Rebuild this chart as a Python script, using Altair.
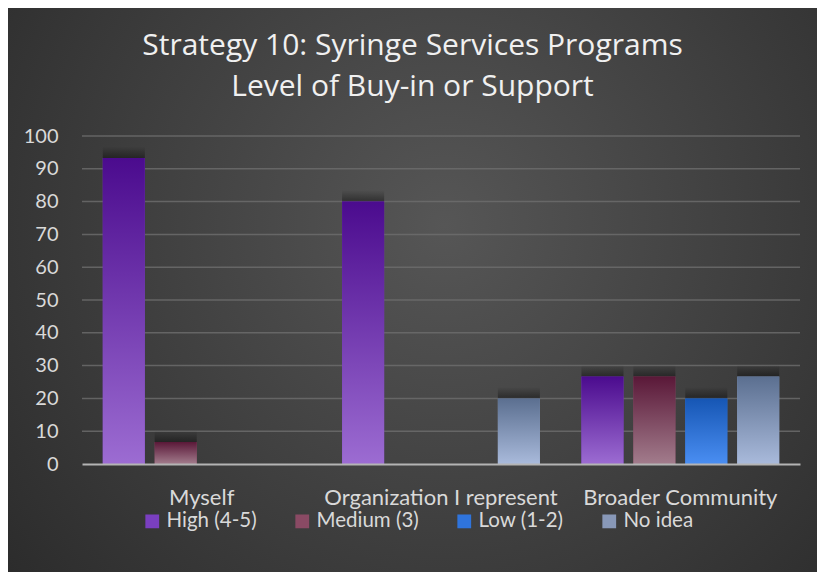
import altair as alt
import pandas as pd

categories = ["Myself", "Organization I represent", "Broader Community"]
series = ["High (4-5)", "Medium (3)", "Low (1-2)", "No idea"]
high = [93.3, 80.0, 26.7]
medium = [6.7, 0.0, 26.7]
low = [0.0, 0.0, 20.0]
no_idea = [0.0, 20.0, 26.7]
y_ticks = list(range(0, 101, 10))

legend_colors = ["#7a3fc0", "#8a4a64", "#2f74dc", "#8898b8"]
grad_top = ["#4b0b8e", "#5a1838", "#1656b4", "#5b6f90"]
grad_bottom = ["#9c6cd2", "#a27c8c", "#4a8ef2", "#a9badb"]

rows = []
for s, vals in zip(series, [high, medium, low, no_idea]):
    for c, v in zip(categories, vals):
        rows.append({"category": c, "series": s, "value": v})
df = pd.DataFrame(rows)

W, H = 718, 328
PL, PT, PR, PB = 74, 128, 17, 108
FONT = "Lato"
TXT = "#d9d9d9"

y_scale = alt.Scale(domain=[0, 100], nice=False)
y_axis = alt.Axis(values=y_ticks, labelOverlap=False, zindex=1, labelFontSize=20,
                  labelColor=TXT, labelFont=FONT, ticks=False, grid=False,
                  domain=False, labelPadding=24)
x_axis = alt.Axis(labelAngle=0, labelFontSize=22, labelColor=TXT, labelFont=FONT,
                  ticks=False, grid=False, domainColor="#b4b4b4", domainWidth=2,
                  labelPadding=23, labelLimit=400, zindex=1)

x_enc = alt.X(
    "category:N", sort=categories, title=None,
    scale=alt.Scale(paddingInner=0, paddingOuter=0), axis=x_axis,
)
xo_enc = alt.XOffset(
    "series:N", sort=series,
    scale=alt.Scale(domain=series, paddingInner=0.19, paddingOuter=0.4),
)
y_enc = alt.Y("value:Q", title=None, scale=y_scale, axis=y_axis)

bg = alt.Chart(pd.DataFrame({"a": [0]})).mark_rect(
    fill=alt.RadialGradient(
        gradient="radial", x1=0.54, y1=0.42, r1=0, x2=0.54, y2=0.42, r2=0.72,
        stops=[alt.GradientStop(offset=0, color="#565656"),
               alt.GradientStop(offset=1, color="#2a2a2a")],
    )
).encode(
    x=alt.value(-PL), x2=alt.value(W + PR), y=alt.value(-PT), y2=alt.value(H + PB)
)

grid = alt.Chart(pd.DataFrame({"tick": y_ticks[1:]})).mark_rule(
    color="#6e6e6e", strokeWidth=1.5, opacity=0.8
).encode(y=alt.Y("tick:Q", title=None, scale=y_scale, axis=y_axis))

base = alt.Chart(df).mark_bar().encode(
    x=x_enc, xOffset=xo_enc, y=y_enc,
    color=alt.Color(
        "series:N", sort=series,
        scale=alt.Scale(domain=series, range=legend_colors),
        legend=alt.Legend(
            title=None, orient="none", direction="horizontal", legendX=60, legendY=375,
            symbolType="square", symbolSize=190, symbolStrokeWidth=0,
            labelFontSize=20.5, labelColor=TXT, labelFont=FONT, columnPadding=35,
            labelOffset=4,
        ),
    ),
)

layers = [bg, grid, base]
for s, t, b in zip(series, grad_top, grad_bottom):
    shadow = alt.Chart(df).transform_filter(
        (alt.datum.series == s) & (alt.datum.value > 0)
    ).transform_calculate(top="datum.value + 3.5").mark_bar(
        color=alt.LinearGradient(
            gradient="linear", x1=0, y1=0, x2=0, y2=1,
            stops=[alt.GradientStop(offset=0, color="rgba(0,0,0,0)"),
                   alt.GradientStop(offset=1, color="rgba(0,0,0,0.4)")],
        )
    ).encode(x=x_enc, xOffset=xo_enc,
             y=alt.Y("top:Q", title=None, scale=y_scale, axis=y_axis),
             y2=alt.Y2("value:Q"))
    bar = alt.Chart(df).transform_filter(
        (alt.datum.series == s) & (alt.datum.value > 0)
    ).mark_bar(
        color=alt.LinearGradient(
            gradient="linear", x1=0, y1=0, x2=0, y2=1,
            stops=[alt.GradientStop(offset=0, color=t),
                   alt.GradientStop(offset=1, color=b)],
        )
    ).encode(x=x_enc, xOffset=xo_enc, y=y_enc)
    layers += [shadow, bar]

chart = alt.layer(*layers).properties(
    width=W, height=H,
    padding={"left": PL, "top": PT, "right": PR, "bottom": PB},
    autosize=alt.AutoSizeParams(type="none"),
    background="#2b2b2b",
    title=alt.TitleParams(
        text=["Strategy 10: Syringe Services Programs", "Level of Buy-in or Support"],
        fontSize=30, font="Open Sans", fontWeight="normal", color="#f0f0f0",
        lineHeight=41, anchor="middle", frame="bounds", offset=-94,
    ),
).configure_view(strokeWidth=0)

chart.save("out.html", embed_options={"renderer": "svg", "actions": False})
